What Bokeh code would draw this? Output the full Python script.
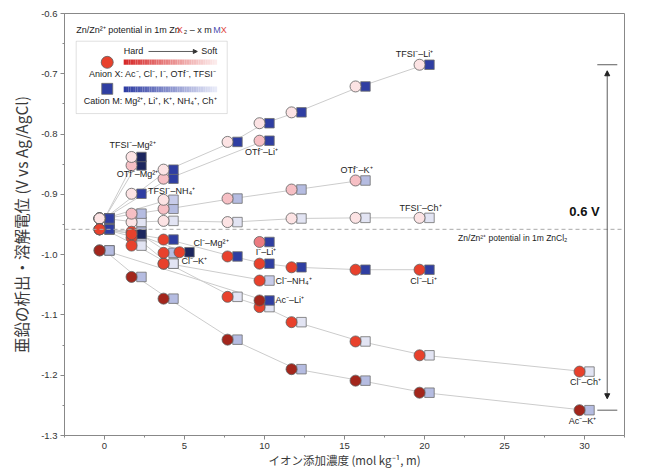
import numpy as np
from bokeh.plotting import figure
from bokeh.models import (Range1d, SingleIntervalTicker, PrintfTickFormatter, Span, Label,
                          BoxAnnotation, Arrow, NormalHead, ColumnDataSource)
from bokeh.transform import dodge
from bokeh.embed import file_html
from bokeh.resources import INLINE

# ---------------- data (x: added ion concentration, y: potential V vs Ag/AgCl) -------------
tfsi_li_x = [0, 2, 4, 8, 10, 12, 16, 20]
tfsi_li_y = [-0.940, -0.899, -0.859, -0.813, -0.782, -0.764, -0.721, -0.685]
otf_li_x = [0, 4, 10]
otf_li_y = [-0.940, -0.874, -0.811]
tfsi_mg_x = [0, 2]
tfsi_mg_y = [-0.940, -0.838]
otf_mg_x = [0, 2]
otf_mg_y = [-0.940, -0.852]
tfsi_nh4_x = [0, 4]
tfsi_nh4_y = [-0.940, -0.909]
otf_k_x = [0, 2, 4, 8, 12, 16]
otf_k_y = [-0.940, -0.932, -0.924, -0.907, -0.892, -0.877]
tfsi_ch_x = [0, 2, 4, 8, 12, 16, 20]
tfsi_ch_y = [-0.940, -0.946, -0.944, -0.946, -0.940, -0.939, -0.939]

cl_mg_x = [0, 2, 5]
cl_mg_y = [-0.958, -0.966, -0.996]
cl_k_x = [0, 2, 4]
cl_k_y = [-0.958, -0.962, -0.997]
cl_li_x = [0, 4, 8, 10, 12, 16, 20]
cl_li_y = [-0.958, -0.975, -1.003, -1.015, -1.021, -1.025, -1.025]
cl_nh4_x = [0, 2, 4, 10]
cl_nh4_y = [-0.958, -0.972, -1.015, -1.043]
cl_ch_x = [0, 2, 4, 8, 10, 12, 16, 20, 30]
cl_ch_y = [-0.958, -0.985, -1.015, -1.070, -1.087, -1.112, -1.144, -1.167, -1.194]
i_li_x = [10]
i_li_y = [-0.979]

ac_li_x = [0, 10]
ac_li_y = [-0.993, -1.076]
ac_k_x = [0, 2, 4, 8, 12, 16, 20, 30]
ac_k_y = [-0.993, -1.037, -1.073, -1.141, -1.190, -1.209, -1.229, -1.258]

zncl2_ref = -0.958  # Zn/Zn2+ potential in 1m ZnCl2

# anion / cation colours (hard -> soft)
anion_colors = {"Ac": "#A3261C", "Cl": "#E8412C", "I": "#EC7B80", "OTf": "#F6BFC4", "TFSI": "#FCE3E4"}
cation_colors = {"Mg": "#1C265E", "Li": "#2F3EA2", "K": "#B5BCE1", "NH4": "#C8CCEA", "Ch": "#E2E4F3"}

# draw order (later on top)
series = [
    (tfsi_ch_x, tfsi_ch_y, "TFSI", "Ch"),
    (otf_k_x, otf_k_y, "OTf", "K"),
    (tfsi_nh4_x, tfsi_nh4_y, "TFSI", "NH4"),
    (otf_mg_x, otf_mg_y, "OTf", "Mg"),
    (tfsi_mg_x, tfsi_mg_y, "TFSI", "Mg"),
    (otf_li_x, otf_li_y, "OTf", "Li"),
    (tfsi_li_x, tfsi_li_y, "TFSI", "Li"),
    (cl_nh4_x, cl_nh4_y, "Cl", "NH4"),
    (cl_ch_x, cl_ch_y, "Cl", "Ch"),
    (cl_k_x, cl_k_y, "Cl", "K"),
    (cl_mg_x, cl_mg_y, "Cl", "Mg"),
    (cl_li_x, cl_li_y, "Cl", "Li"),
    (i_li_x, i_li_y, "I", "Li"),
    (ac_li_x, ac_li_y, "Ac", "Li"),
    (ac_k_x, ac_k_y, "Ac", "K"),
]

p = figure(width=641, height=476, output_backend="svg", toolbar_location=None,
           x_range=Range1d(-2.5, 32.5), y_range=Range1d(-1.3, -0.6),
           min_border_left=64, min_border_right=17, min_border_top=13, min_border_bottom=41)
p.background_fill_color = "white"
p.border_fill_color = "white"
p.outline_line_color = "#888888"
p.xgrid.visible = False
p.ygrid.visible = False

FONT = "Liberation Sans"
JP = "Noto Sans CJK JP"

p.xaxis.ticker = SingleIntervalTicker(interval=5, num_minor_ticks=2)
p.yaxis.ticker = SingleIntervalTicker(interval=0.1, num_minor_ticks=2)
p.yaxis.formatter = PrintfTickFormatter(format="%.1f")
for ax in (p.xaxis, p.yaxis):
    ax.axis_line_color = "#888888"
    ax.major_tick_line_color = "#888888"
    ax.minor_tick_line_color = "#888888"
    ax.major_tick_out = 4
    ax.major_tick_in = 0
    ax.minor_tick_out = 2
    ax.minor_tick_in = 0
    ax.major_label_text_font = FONT
    ax.major_label_text_font_size = "9.5px"
    ax.major_label_text_color = "#333333"
    ax.major_label_standoff = 3
    ax.axis_label_text_font = JP
    ax.axis_label_text_font_style = "normal"
    ax.axis_label_text_color = "#3a3a3a"
p.xaxis.axis_label_text_font_size = "11.5px"
p.yaxis.axis_label_text_font_size = "15.5px"
p.xaxis.axis_label = "イオン添加濃度 (mol kg⁻¹, m)"
p.yaxis.axis_label = "亜鉛の析出・溶解電位 (V vs Ag/AgCl)"
p.xaxis.axis_label_standoff = 0
p.yaxis.axis_label_standoff = 6

# reference line
p.add_layout(Span(location=zncl2_ref, dimension="width", line_color="#AAAAAA",
                  line_dash="4 3", line_width=1))

# connecting lines
for xs, ys, an, ca in series:
    if len(xs) > 1:
        p.line(xs, ys, line_color="#CCCCCC", line_width=1)

DX = 0.31
sources = []
for xs, ys, an, ca in series:
    src = ColumnDataSource(dict(x=xs, y=ys))
    sources.append((src, an, ca))
for src, an, ca in sources:
    p.scatter(x=dodge("x", DX, range=p.x_range), y="y", source=src, marker="square",
              size=9.5, fill_color=cation_colors[ca], line_color="#6E6E6E", line_width=0.8)
for src, an, ca in sources:
    p.scatter(x=dodge("x", -DX, range=p.x_range), y="y", source=src, marker="circle",
              size=11, fill_color=anion_colors[an], line_color="#5E5E5E", line_width=0.8)

# series labels: (text, xs, ys, dx px, dy px, align)
label_specs = [
    ("TFSI⁻–Li⁺", tfsi_li_x, tfsi_li_y, -10, 11, "center"),
    ("OTf⁻–Li⁺", otf_li_x, otf_li_y, -3, -11, "center"),
    ("OTf⁻–K⁺", otf_k_x, otf_k_y, -4, 10, "center"),
    ("TFSI⁻–Ch⁺", tfsi_ch_x, tfsi_ch_y, -4, 10, "center"),
    ("TFSI⁻–Mg²⁺", tfsi_mg_x, tfsi_mg_y, -4, 12, "center"),
    ("OTf⁻–Mg²⁺", otf_mg_x, otf_mg_y, 1, -8.5, "center"),
    ("TFSI⁻–NH₄⁺", tfsi_nh4_x, tfsi_nh4_y, -20.5, 8.5, "left"),
    ("Cl⁻–Mg²⁺", cl_mg_x, cl_mg_y, 9, 9.5, "left"),
    ("Cl⁻–K⁺", cl_k_x, cl_k_y, 13, -8, "left"),
    ("I⁻–Li⁺", i_li_x, i_li_y, 1.5, -10, "center"),
    ("Cl⁻–NH₄⁺", cl_nh4_x, cl_nh4_y, 11, 0, "left"),
    ("Ac⁻–Li⁺", ac_li_x, ac_li_y, 11, 0, "left"),
    ("Cl⁻–Li⁺", cl_li_x, cl_li_y, -1, -11, "center"),
    ("Cl⁻–Ch⁺", cl_ch_x, cl_ch_y, 1, -10, "center"),
    ("Ac⁻–K⁺", ac_k_x, ac_k_y, -2, -11, "center"),
]
for txt, xs, ys, dx, dy, al in label_specs:
    p.add_layout(Label(x=xs[-1], y=ys[-1], x_offset=dx, y_offset=dy, text=txt,
                       text_font=FONT, text_font_size="9px", text_color="#222222",
                       text_align=al, text_baseline="middle"))

# 0.6 V span indicator
y_top = max(tfsi_li_y)
y_bot = min(ac_k_y)
p.segment(x0=[30.8, 30.8], y0=[y_top, y_bot], x1=[32.05, 32.05], y1=[y_top, y_bot],
          line_color="#333333", line_width=0.8)
p.add_layout(Arrow(x_start=31.42, y_start=y_top - 0.01, x_end=31.42, y_end=y_bot + 0.019,
                   line_color="#333333", line_width=0.8,
                   start=NormalHead(size=5, fill_color="#222222", line_color="#222222"),
                   end=NormalHead(size=5, fill_color="#222222", line_color="#222222")))
p.add_layout(Label(x=30.0, y=zncl2_ref, y_offset=18, text="0.6 V", text_font=FONT,
                   text_font_size="13px", text_font_style="bold", text_color="#111111",
                   text_align="center", text_baseline="middle"))
p.add_layout(Label(x=22.1, y=zncl2_ref, y_offset=-9, text="Zn/Zn²⁺ potential in 1m ZnCl₂",
                   text_font=FONT, text_font_size="8.5px", text_color="#222222",
                   text_align="left", text_baseline="middle"))

# ---------------- legend panel ----------------
p.add_layout(BoxAnnotation(left=-1.77, right=7.67, top=-0.646, bottom=-0.766,
                           fill_color="white", fill_alpha=1.0, line_color="#999999",
                           line_width=1, level="underlay"))
title_segments = [("Zn/Zn²⁺ potential in 1m Zn", "#222222", 0),
                  ("X", "#E0443A", 100.5),
                  ("₂ – x m ", "#222222", 107.5),
                  ("M", "#4A4FB0", 137),
                  ("X", "#E0443A", 144.5)]
for txt, col, off in title_segments:
    p.add_layout(Label(x=-1.77, y=-0.628, x_offset=off, text=txt, text_font=FONT,
                       text_font_size="9px", text_color=col, text_align="left",
                       text_baseline="middle"))

def grad(c0, c1, n):
    a = np.array([int(c0[i:i + 2], 16) for i in (1, 3, 5)], float)
    b = np.array([int(c1[i:i + 2], 16) for i in (1, 3, 5)], float)
    return ["#%02x%02x%02x" % tuple(int(round(v)) for v in a + (b - a) * t)
            for t in np.linspace(0, 1, n)]

n = 40
edges = np.linspace(1.2, 7.04, n + 1)
p.quad(left=edges[:-1], right=edges[1:], top=-0.6763, bottom=-0.6851,
       fill_color=grad("#D62828", "#FCEBEB", n), line_color=None)
p.quad(left=edges[:-1], right=edges[1:], top=-0.7211, bottom=-0.7305,
       fill_color=grad("#2E3DA3", "#E8EAF8", n), line_color=None)
p.scatter(x=[0.17], y=[-0.681], marker="circle", size=12, fill_color="#E8412C",
          line_color="#5E5E5E", line_width=0.8)
p.scatter(x=[0.17], y=[-0.725], marker="square", size=11, fill_color="#2F3EA2",
          line_color="#6E6E6E", line_width=0.8)
p.add_layout(Label(x=1.2, y=-0.663, text="Hard", text_font=FONT, text_font_size="9px",
                   text_color="#222222", text_align="left", text_baseline="middle"))
p.add_layout(Label(x=7.04, y=-0.663, text="Soft", text_font=FONT, text_font_size="9px",
                   text_color="#222222", text_align="right", text_baseline="middle"))
p.add_layout(Arrow(x_start=2.75, y_start=-0.663, x_end=5.8, y_end=-0.663,
                   line_color="#333333", line_width=0.8,
                   end=NormalHead(size=4, fill_color="#333333", line_color="#333333")))
p.add_layout(Label(x=7.0, y=-0.701, text="Anion X: Ac⁻, Cl⁻, I⁻, OTf⁻, TFSI⁻", text_font=FONT,
                   text_font_size="9px", text_color="#222222", text_align="right",
                   text_baseline="middle"))
p.add_layout(Label(x=7.0, y=-0.7454, text="Cation M: Mg²⁺, Li⁺, K⁺, NH₄⁺, Ch⁺", text_font=FONT,
                   text_font_size="9px", text_color="#222222", text_align="right",
                   text_baseline="middle"))

open("out.html", "w").write(file_html(p, INLINE))
